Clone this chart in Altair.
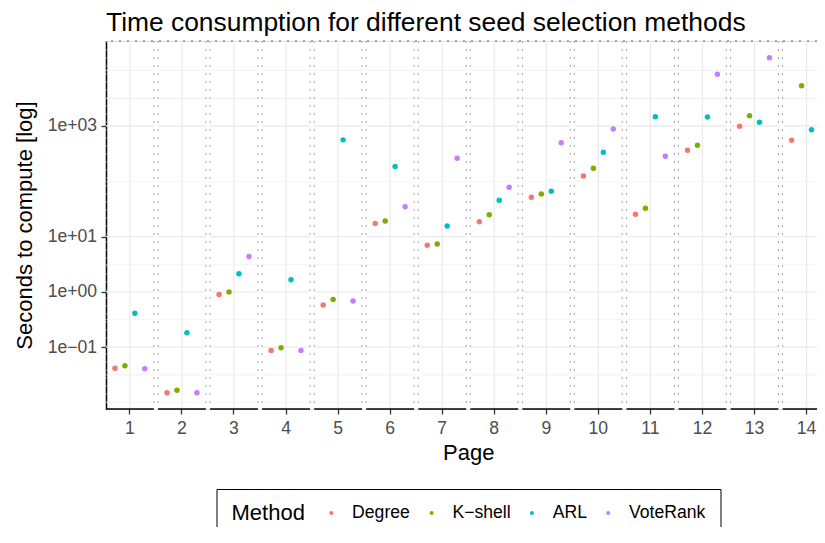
import altair as alt
import pandas as pd

FONT = "Liberation Sans"

pages = list(range(1, 15))
methods = ["Degree", "K\u2212shell", "ARL", "VoteRank"]
colors = ["#F8766D", "#7CAE00", "#00BFC4", "#C77CFF"]

degree = [0.0415, 0.0150, 0.894, 0.0875, 0.579, 17.3, 6.96, 18.6, 51.3, 125, 25.3, 364, 988, 551]
kshell = [0.0463, 0.0166, 1.0, 0.098, 0.726, 19.1, 7.35, 24.9, 58.9, 172, 32.5, 448, 1535, 5357]
arl = [0.410, 0.183, 2.12, 1.66, 561, 186, 15.6, 45.3, 65.9, 334, 1472, 1455, 1167, 857]
voterank = [0.0408, 0.0150, 4.35, 0.0875, 0.684, 34.7, 261, 77.9, 499, 883, 283, 8610, 17180, 6166]

major_breaks = [0.1, 1, 10, 1000]
major_labels = ["1e\u221201", "1e+00", "1e+01", "1e+03"]
minor_breaks = [10 ** -2, 10 ** -1.5, 10 ** -0.5, 10 ** 0.5, 10 ** 2, 10 ** 3.5, 10 ** 4]
y_domain = [10 ** -2.118, 10 ** 4.537]

# layout geometry (pixels)
PANEL_W = 47.8
PITCH = 52.05
PLOT_W = 711
PLOT_H = 368
pad_inner = 1 - PANEL_W / PITCH
x_range_end = PITCH * (len(pages) - pad_inner)

# dodge like ggplot: panel = 1.2 units (0.6 expansion), dodge width 1
DODGE_W = 1.0
PANEL_UNITS = 1.2
n_m = len(methods)
band_pos = [0.5 + (i - (n_m - 1) / 2) * (DODGE_W / n_m) / PANEL_UNITS for i in range(n_m)]

rows = []
for series_name, series in zip(methods, [degree, kshell, arl, voterank]):
    for p, v in zip(pages, series):
        rows.append({"Page": p, "Method": series_name, "Seconds": v})
df = pd.DataFrame(rows)
pages_df = pd.DataFrame({"Page": pages})
grid_df = pd.DataFrame(
    [{"Page": p, "Seconds": b, "Kind": "major"} for p in pages for b in major_breaks]
    + [{"Page": p, "Seconds": b, "Kind": "minor"} for p in pages for b in minor_breaks]
)

label_expr = " : ".join(
    f"datum.value == {b} ? '{l}'" for b, l in zip(major_breaks, major_labels)
) + " : ''"

x_scale = alt.Scale(type="band", domain=pages, range=[0, x_range_end],
                    paddingInner=pad_inner, paddingOuter=0)
y_scale = alt.Scale(type="log", domain=y_domain, nice=False)

x_axis = alt.Axis(
    labelAngle=0, grid=False, domain=False, bandPosition=0.5,
    tickColor="#333333", tickWidth=1.3, tickSize=5,
    labelFontSize=17.6, labelColor="#4D4D4D", labelPadding=5, labelFont=FONT,
    titleFontSize=22, titleFont=FONT, titleFontWeight="normal", titleColor="black",
    titlePadding=6,
)
y_axis = alt.Axis(
    values=major_breaks,
    labelExpr=label_expr,
    grid=False,
    domainColor="black", domainWidth=1.5, tickColor="#333333", tickWidth=1.3, tickSize=5,
    labelFontSize=17.6, labelColor="#4D4D4D", labelPadding=4.4, labelFont=FONT,
    titleFontSize=22, titleFont=FONT, titleFontWeight="normal", titleColor="black",
    titlePadding=11,
)
legend = alt.Legend(
    title="Method", orient="none", legendX=110.5, legendY=448,
    direction="horizontal", titleOrient="left", strokeColor="black", padding=15,
    symbolSize=16, symbolType="circle", symbolStrokeWidth=0,
    labelFontSize=17.6, labelFont=FONT, labelColor="black",
    titleFontSize=22, titleFont=FONT, titleFontWeight="normal", titleColor="black",
    labelOffset=12, columnPadding=12.3, titlePadding=17,
)
X_TITLE = "Page"
Y_TITLE = "Seconds to compute [log]"


def xenc(**kw):
    return alt.X("Page:O", title=X_TITLE, scale=x_scale, axis=x_axis, **kw)


def yenc():
    return alt.Y("Seconds:Q", title=Y_TITLE, scale=y_scale, axis=y_axis)


minor_grid = alt.Chart(grid_df).transform_filter("datum.Kind == 'minor'").mark_tick(
    orient="horizontal", size=PANEL_W, thickness=0.65, color="#EBEBEB", opacity=1
).encode(x=xenc(), y=yenc())

major_grid = alt.Chart(grid_df).transform_filter("datum.Kind == 'major'").mark_tick(
    orient="horizontal", size=PANEL_W, thickness=1.3, color="#EBEBEB", opacity=1
).encode(x=xenc(), y=yenc())

vgrid = alt.Chart(pages_df).mark_rule(color="#EBEBEB", strokeWidth=1.3).encode(
    x=xenc(bandPosition=0.5)
)

border_left = alt.Chart(pages_df).mark_rule(
    color="#A6A6A6", strokeDash=[2, 6], strokeWidth=1
).encode(x=xenc(bandPosition=0))

border_right = alt.Chart(pages_df).mark_rule(
    color="#A6A6A6", strokeDash=[2, 6], strokeWidth=1
).encode(x=xenc(bandPosition=1))

border_top = alt.Chart(pages_df).mark_rule(
    color="#A6A6A6", strokeDash=[2, 6], strokeWidth=1
).encode(y=alt.value(0))

axis_segments = alt.Chart(pages_df).mark_tick(
    orient="horizontal", size=PANEL_W, thickness=1.5, color="black", opacity=1
).encode(x=xenc(), y=alt.value(PLOT_H))

point_layers = []
for m, bp in zip(methods, band_pos):
    point_layers.append(
        alt.Chart(df).transform_filter(alt.datum.Method == m).mark_circle(size=30, opacity=1).encode(
            x=xenc(bandPosition=bp),
            y=yenc(),
            color=alt.Color("Method:N", sort=methods,
                            scale=alt.Scale(domain=methods, range=colors), legend=legend),
        )
    )

chart = alt.layer(
    minor_grid, major_grid, vgrid, border_left, border_right, border_top, axis_segments,
    *point_layers
).properties(
    width=PLOT_W,
    height=PLOT_H,
    title=alt.TitleParams(
        "Time consumption for different seed selection methods",
        anchor="start", frame="group", fontSize=26.4, font=FONT, fontWeight="normal",
        color="black", offset=4,
    ),
    autosize=alt.AutoSizeParams(type="none"),
    padding={"left": 98, "top": 33, "right": 0, "bottom": 118},
).configure_view(stroke=None).configure(background="white")

chart.save("out.html", embed_options={"renderer": "svg", "actions": False})
